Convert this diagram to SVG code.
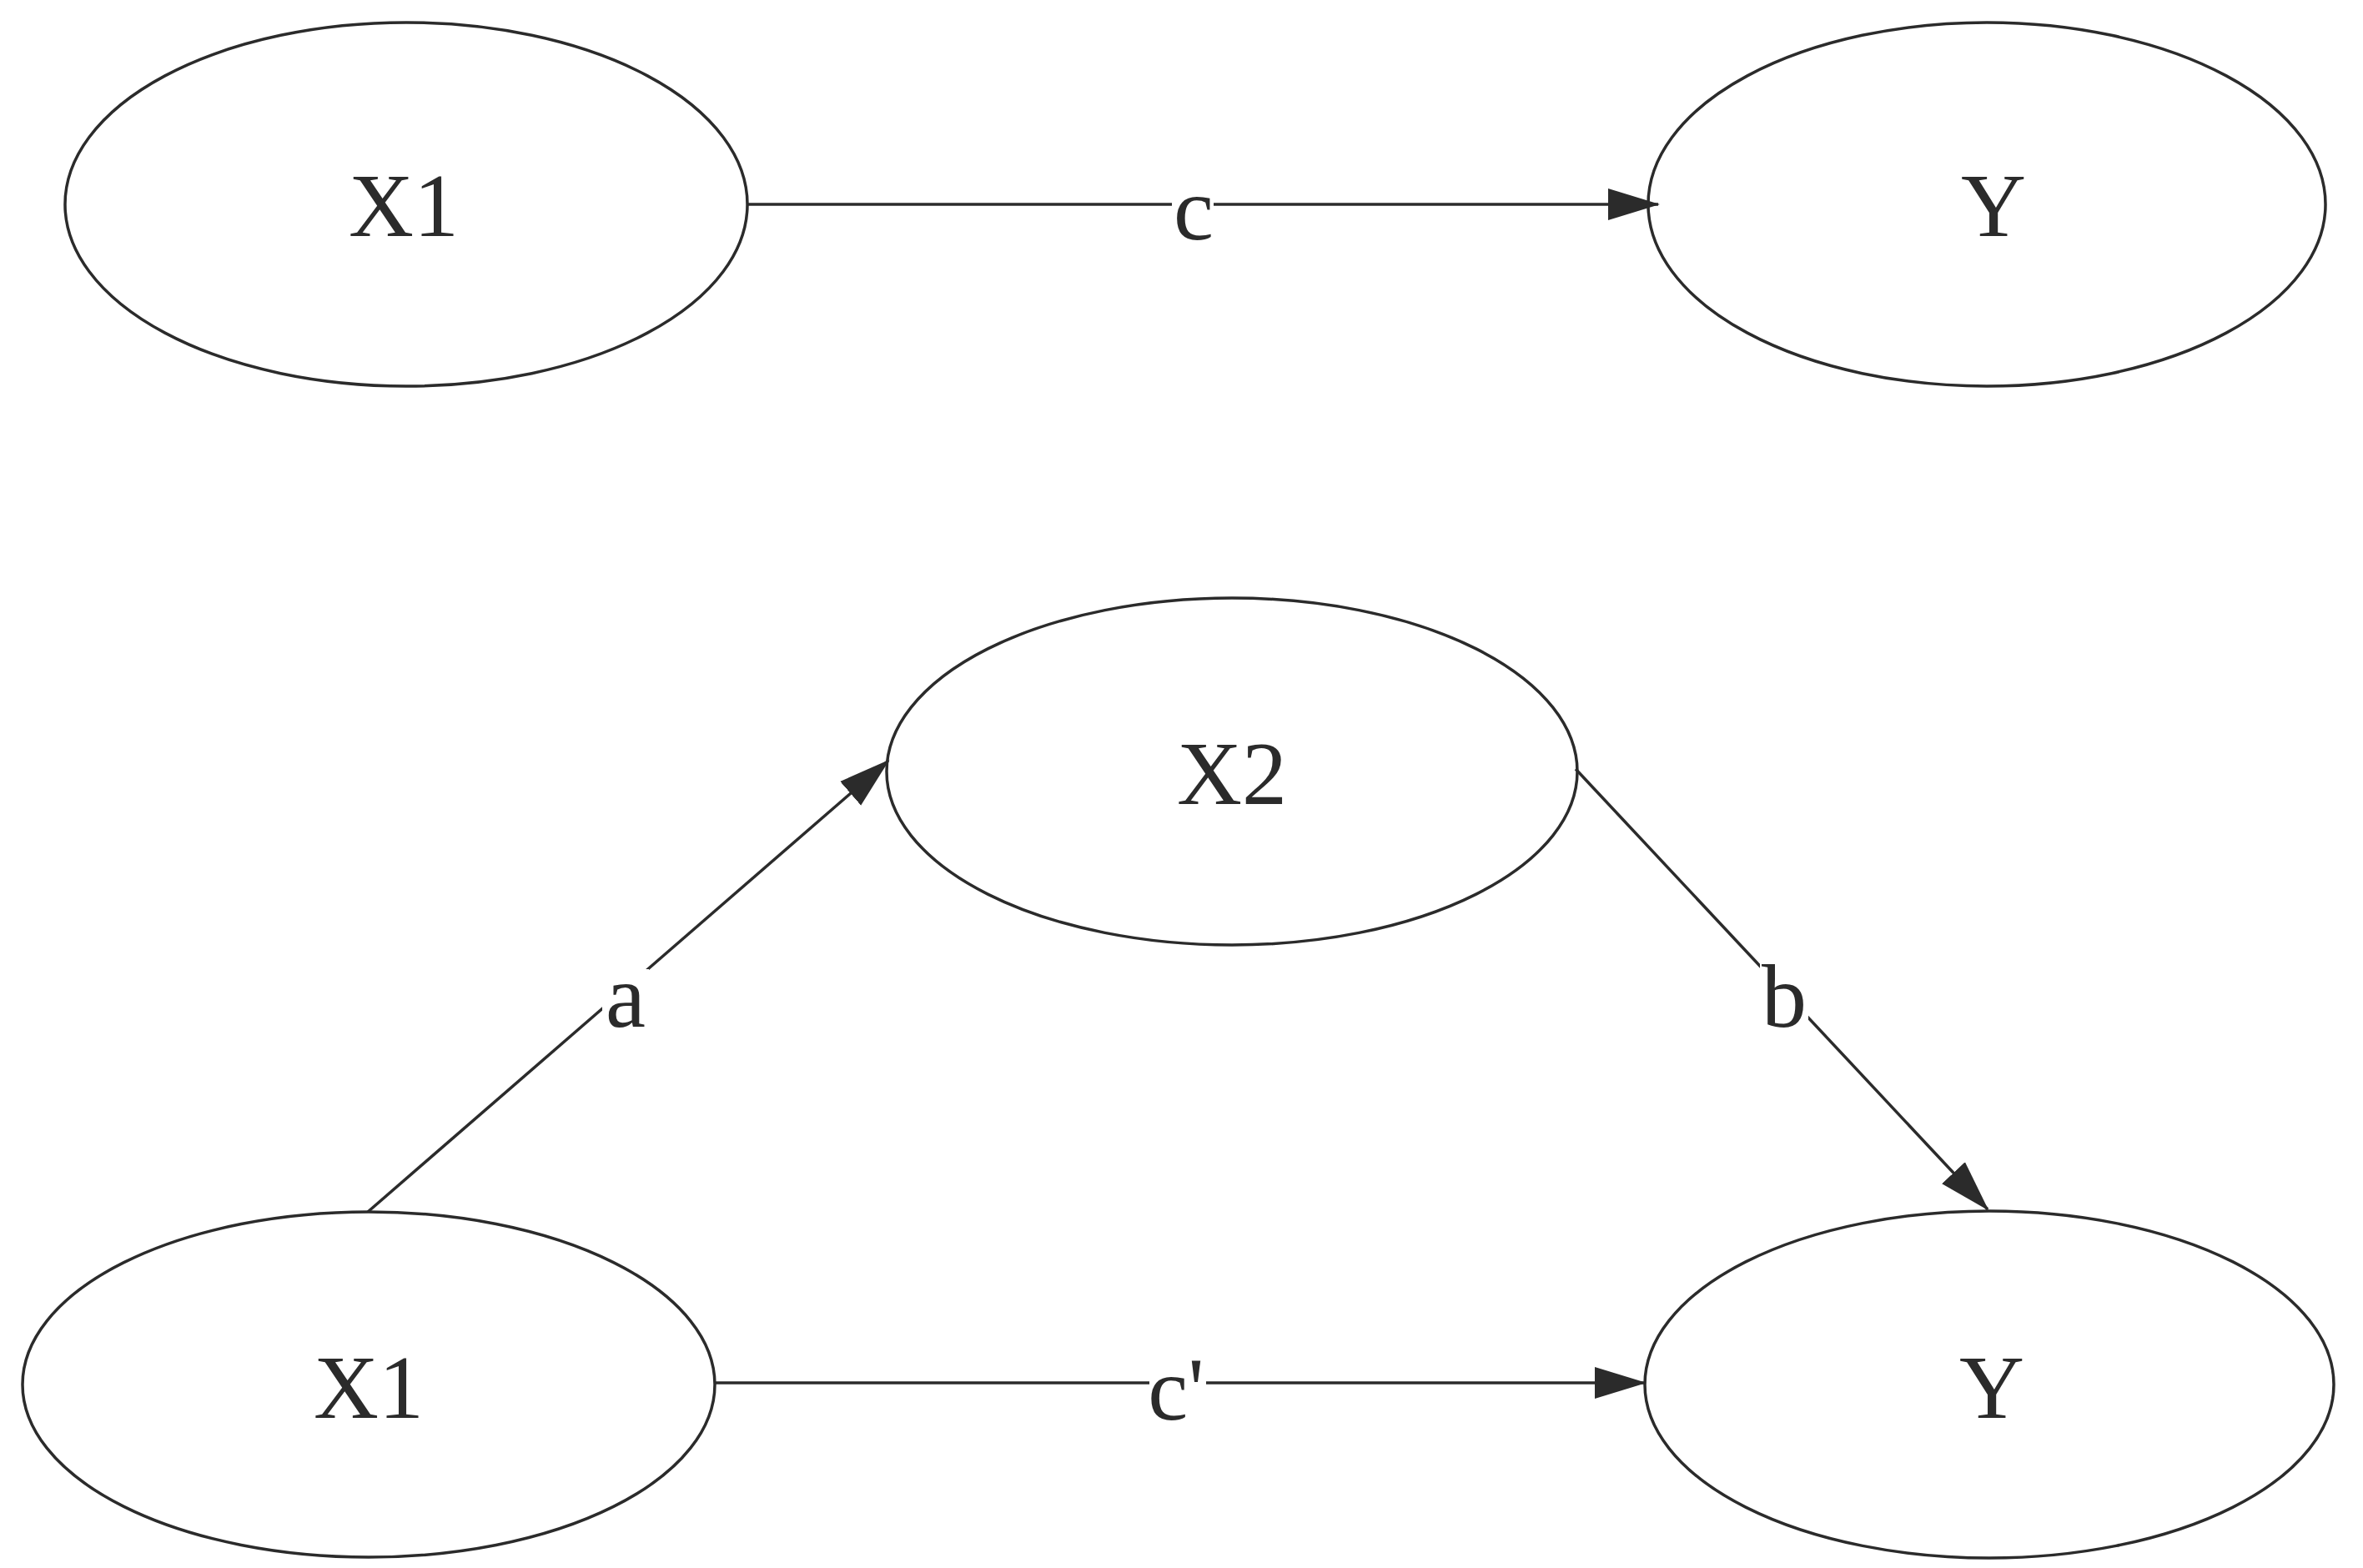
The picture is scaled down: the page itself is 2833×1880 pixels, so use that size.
<svg xmlns="http://www.w3.org/2000/svg" width="2833" height="1880" viewBox="0 0 2833 1880">
<style>
.node ellipse{fill:none;stroke:#2b2b2b;stroke-width:3.5}
.edge{stroke:#2b2b2b;stroke-width:3.5;fill:none}
text{font-family:"Liberation Serif","Times New Roman",serif;font-size:108px;fill:#2b2b2b;text-anchor:middle}
.bg{fill:#fff}
</style>
<defs>
<marker id="ah" markerUnits="userSpaceOnUse" markerWidth="64" markerHeight="42" viewBox="0 -21 64 42" refX="60" refY="0" orient="auto">
<path d="M0,-19 L62,0 L0,19 z" fill="#2b2b2b"/>
</marker>
</defs>
<rect width="2833" height="1880" fill="#fff"/>
<g id="connectors">
<line class="edge" x1="895" y1="245" x2="1988" y2="245" marker-end="url(#ah)"/>
<line class="edge" x1="441" y1="1453" x2="1065" y2="912" marker-end="url(#ah)"/>
<line class="edge" x1="1889" y1="922" x2="2383" y2="1450" marker-end="url(#ah)"/>
<line class="edge" x1="857" y1="1658" x2="1972" y2="1658" marker-end="url(#ah)"/>
</g>
<g id="edge-labels">
<rect class="bg" x="1405" y="215" width="50" height="80"/>
<text x="1431" y="287">c</text>
<rect class="bg" x="722" y="1162" width="56" height="70"/>
<text x="750" y="1231">a</text>
<rect class="bg" x="2110" y="1150" width="58" height="85"/>
<text x="2139" y="1231">b</text>
<rect class="bg" x="1378" y="1628" width="68" height="80"/>
<text x="1410" y="1702">c'</text>
</g>
<g id="top-x1" class="node"><ellipse cx="487" cy="245" rx="409" ry="218"/><text x="484" y="283">X1</text></g>
<g id="top-y" class="node"><ellipse cx="2382" cy="245" rx="406" ry="218"/><text x="2390" y="283">Y</text></g>
<g id="x2" class="node"><ellipse cx="1477" cy="925" rx="414" ry="208"/><text x="1477" y="964">X2</text></g>
<g id="bottom-x1" class="node"><ellipse cx="442" cy="1660" rx="415" ry="207"/><text x="442" y="1700">X1</text></g>
<g id="bottom-y" class="node"><ellipse cx="2385" cy="1660" rx="413" ry="208"/><text x="2388" y="1700">Y</text></g>
</svg>
